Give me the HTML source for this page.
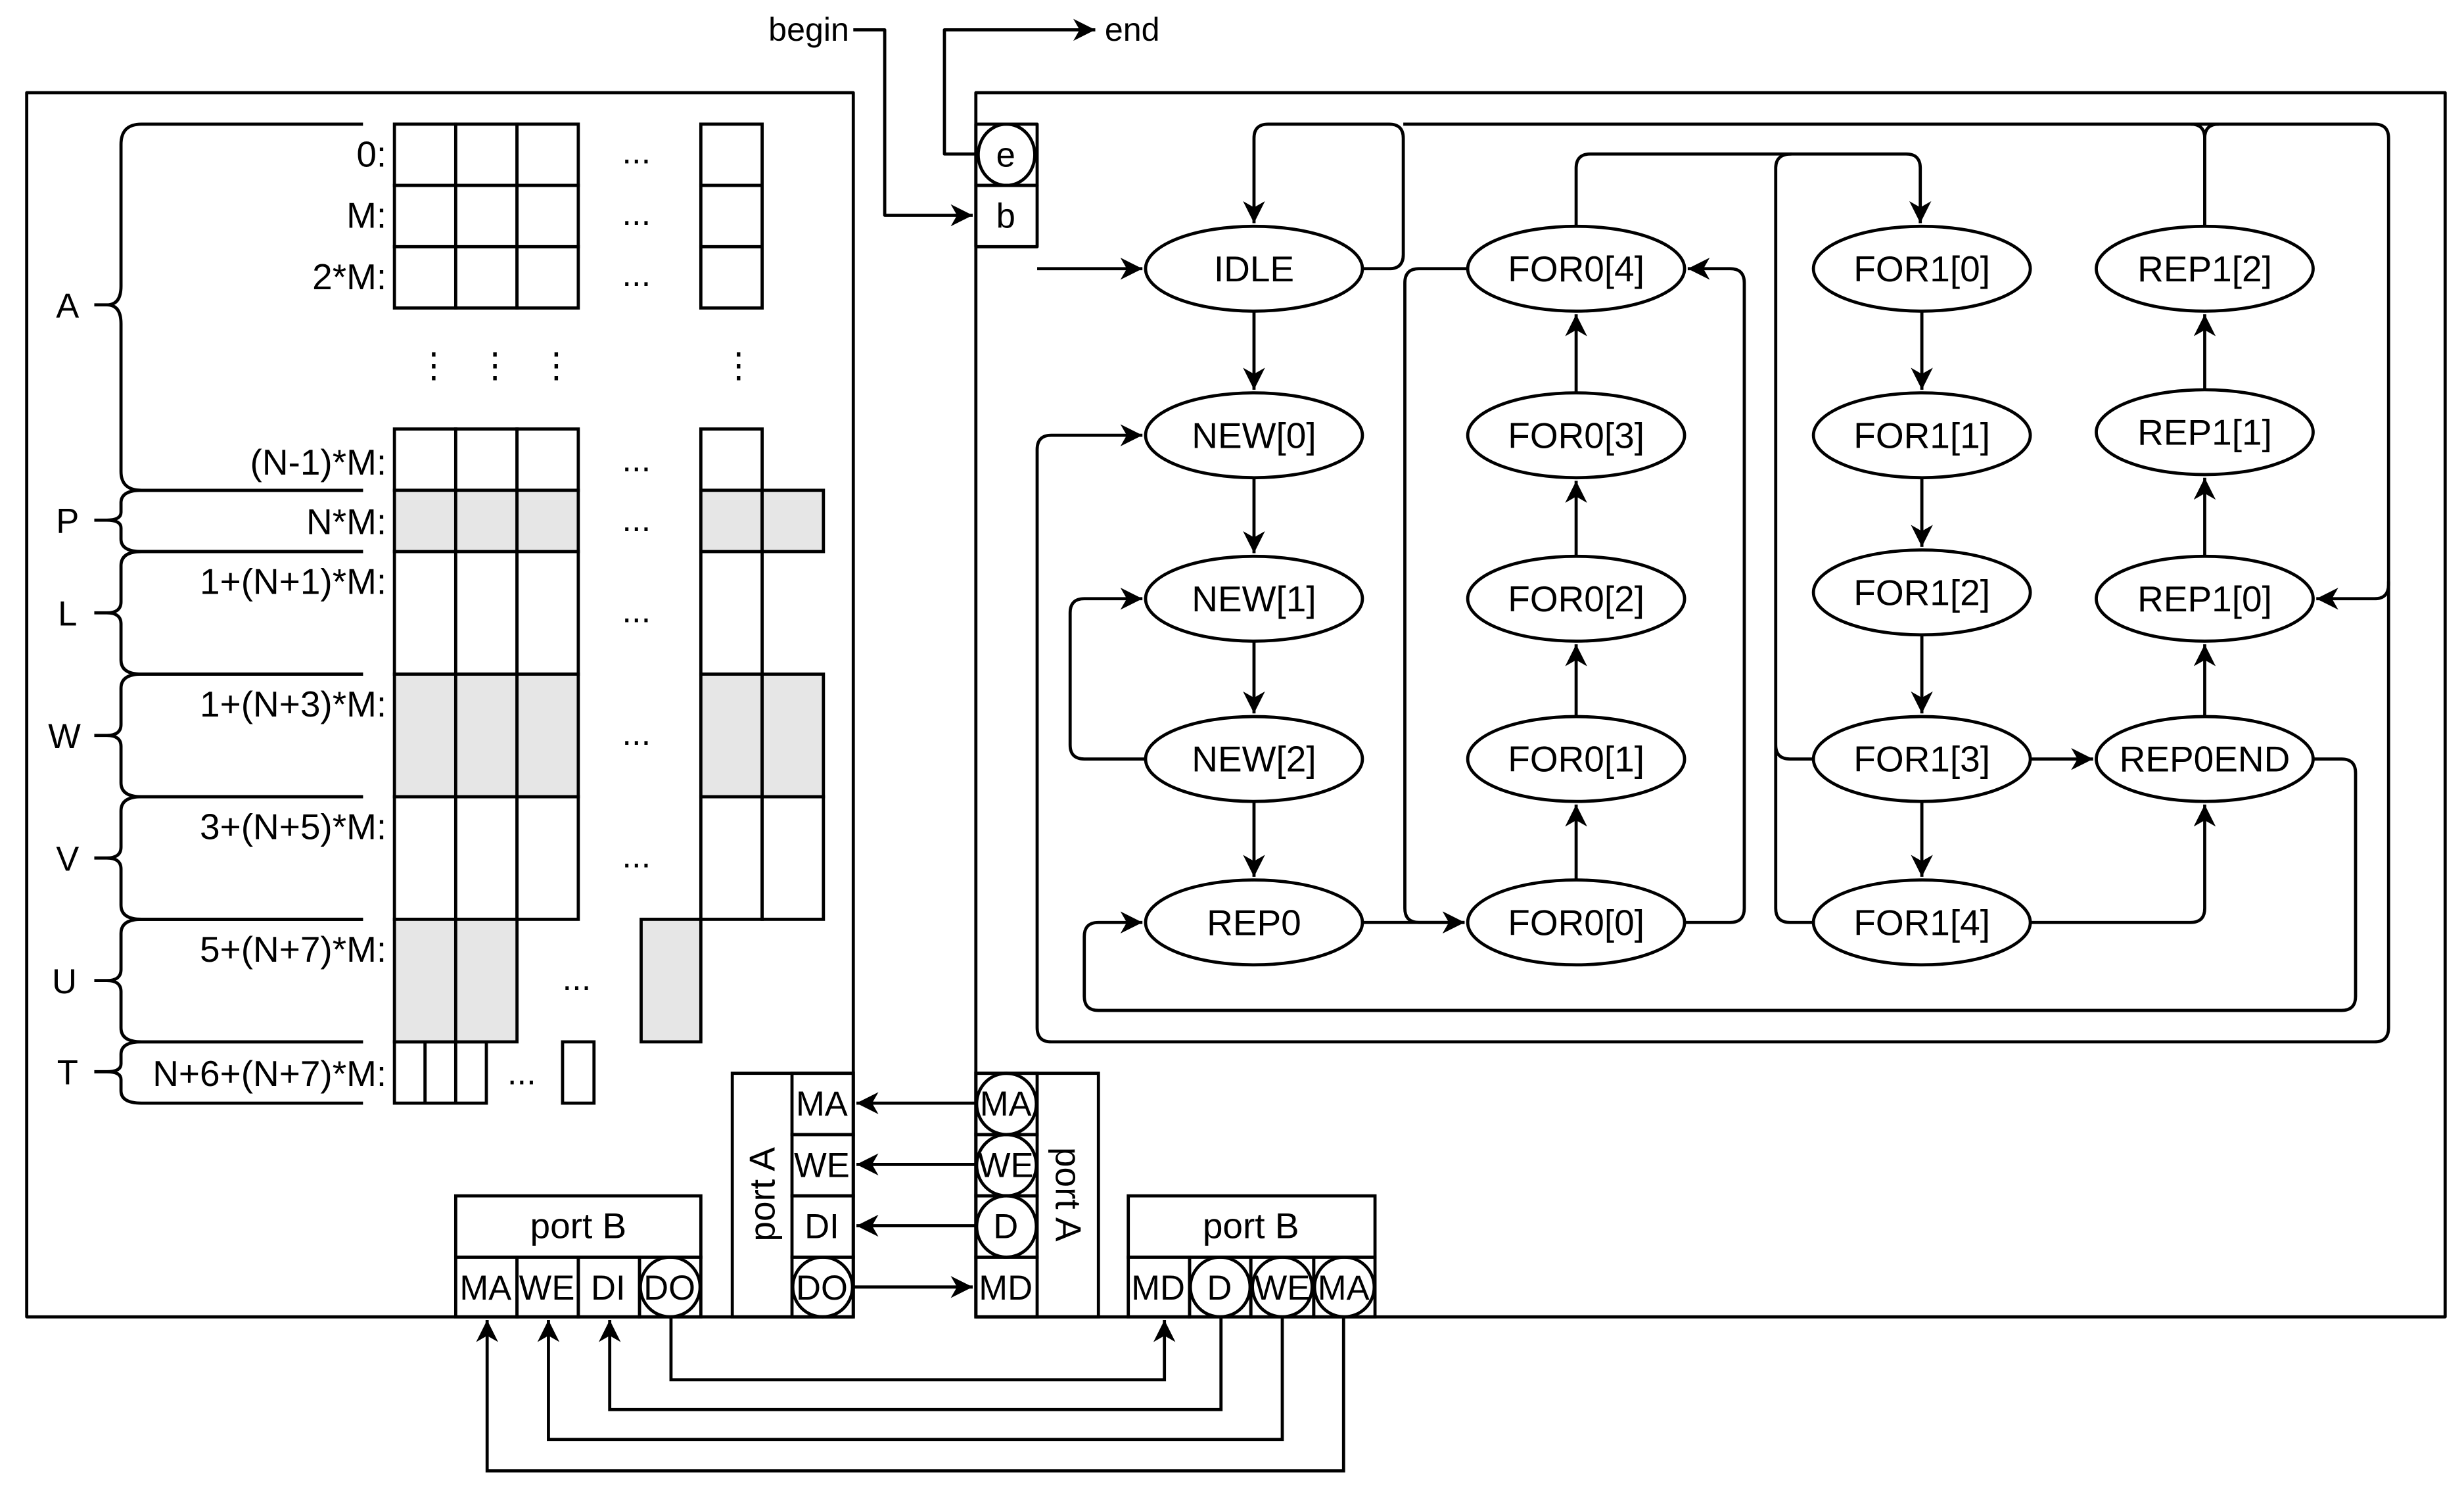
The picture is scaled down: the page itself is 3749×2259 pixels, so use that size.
<!DOCTYPE html>
<html><head><meta charset="utf-8"><style>html,body{margin:0;padding:0;background:#fff}svg{display:block}</style></head>
<body>
<svg xmlns="http://www.w3.org/2000/svg" width="3749" height="2259" viewBox="0 0 1568 945" preserveAspectRatio="none">
<defs>
<marker id="a" markerUnits="userSpaceOnUse" markerWidth="16" markerHeight="14" refX="14" refY="7" orient="auto">
<path d="M0,0 L14,7 L0,14 L4,7 z" fill="#000"/></marker>
</defs>
<rect x="0" y="0" width="1568" height="945" fill="#fff"/>
<g fill="none" stroke="#000" stroke-width="2" stroke-linejoin="round">
<rect x="17" y="59" width="526" height="779"/>
<rect x="621" y="59" width="935" height="779"/>
<rect x="621" y="79" width="39" height="39"/>
<rect x="621" y="118" width="39" height="39"/>
<ellipse cx="640.5" cy="98.5" rx="18" ry="19.5"/>
<path d="M543 19 H563 V137 H619" marker-end="url(#a)"/>
<path d="M621 98 H601 V19 H697" marker-end="url(#a)"/>
</g>
<g stroke="#000" stroke-width="2">
<g fill="#fff">
<rect x="251" y="79" width="39" height="39"/><rect x="290" y="79" width="39" height="39"/><rect x="329" y="79" width="39" height="39"/><rect x="446" y="79" width="39" height="39"/>
<rect x="251" y="118" width="39" height="39"/><rect x="290" y="118" width="39" height="39"/><rect x="329" y="118" width="39" height="39"/><rect x="446" y="118" width="39" height="39"/>
<rect x="251" y="157" width="39" height="39"/><rect x="290" y="157" width="39" height="39"/><rect x="329" y="157" width="39" height="39"/><rect x="446" y="157" width="39" height="39"/>
<rect x="251" y="273" width="39" height="39"/><rect x="290" y="273" width="39" height="39"/><rect x="329" y="273" width="39" height="39"/><rect x="446" y="273" width="39" height="39"/>
<rect x="251" y="351" width="39" height="78"/><rect x="290" y="351" width="39" height="78"/><rect x="329" y="351" width="39" height="78"/><rect x="446" y="351" width="39" height="78"/>
<rect x="251" y="507" width="39" height="78"/><rect x="290" y="507" width="39" height="78"/><rect x="329" y="507" width="39" height="78"/><rect x="446" y="507" width="39" height="78"/><rect x="485" y="507" width="39" height="78"/>
<rect x="251" y="663" width="19.5" height="39"/><rect x="270.5" y="663" width="19.5" height="39"/><rect x="290" y="663" width="19.5" height="39"/><rect x="358" y="663" width="20" height="39"/>
</g>
<g fill="#e6e6e6">
<rect x="251" y="312" width="39" height="39"/><rect x="290" y="312" width="39" height="39"/><rect x="329" y="312" width="39" height="39"/><rect x="446" y="312" width="39" height="39"/><rect x="485" y="312" width="39" height="39"/>
<rect x="251" y="429" width="39" height="78"/><rect x="290" y="429" width="39" height="78"/><rect x="329" y="429" width="39" height="78"/><rect x="446" y="429" width="39" height="78"/><rect x="485" y="429" width="39" height="78"/>
<rect x="251" y="585" width="39" height="78"/><rect x="290" y="585" width="39" height="78"/><rect x="408" y="585" width="38" height="78"/>
</g>
</g>
<g fill="none" stroke="#000" stroke-width="2">
<path d="M231 79 H90 Q77 79 77 92 V182 Q77 194 68 194 H60 M68 194 Q77 194 77 206 V300 Q77 312 90 312 H231"/>
<path d="M231 312 H90 Q77 312 77 320 V326 Q77 331 68 331 H60 M68 331 Q77 331 77 336 V343 Q77 351 90 351 H231"/>
<path d="M231 351 H90 Q77 351 77 360 V383 Q77 390 68 390 H60 M68 390 Q77 390 77 397 V420 Q77 429 90 429 H231"/>
<path d="M231 429 H90 Q77 429 77 438 V461 Q77 468 68 468 H60 M68 468 Q77 468 77 475 V498 Q77 507 90 507 H231"/>
<path d="M231 507 H90 Q77 507 77 516 V539 Q77 546 68 546 H60 M68 546 Q77 546 77 553 V576 Q77 585 90 585 H231"/>
<path d="M231 585 H90 Q77 585 77 594 V617 Q77 624 68 624 H60 M68 624 Q77 624 77 631 V654 Q77 663 90 663 H231"/>
<path d="M231 663 H90 Q77 663 77 671 V677 Q77 682 68 682 H60 M68 682 Q77 682 77 687 V694 Q77 702 90 702 H231"/>
</g>
<g font-family="Liberation Sans, Arial, sans-serif" font-size="22" fill="#000">
<g text-anchor="end" font-size="23">
<text x="246" y="106">0:</text><text x="246" y="145">M:</text><text x="246" y="184">2*M:</text>
<text x="246" y="302">(N-1)*M:</text><text x="246" y="340">N*M:</text><text x="246" y="378">1+(N+1)*M:</text>
<text x="246" y="456">1+(N+3)*M:</text><text x="246" y="534">3+(N+5)*M:</text><text x="246" y="612">5+(N+7)*M:</text>
<text x="246" y="691">N+6+(N+7)*M:</text>
</g>
<g text-anchor="middle">
<text x="43" y="202">A</text><text x="43" y="339">P</text><text x="43" y="398">L</text><text x="41" y="476">W</text>
<text x="43" y="554">V</text><text x="41" y="632">U</text><text x="43" y="690">T</text>
<text x="405" y="104">...</text><text x="405" y="143">...</text><text x="405" y="182">...</text>
<text x="405" y="300">...</text><text x="405" y="338">...</text><text x="405" y="396">...</text>
<text x="405" y="474">...</text><text x="405" y="552">...</text><text x="367" y="630">...</text><text x="332" y="690">...</text>
<text x="276" y="240">⋮</text><text x="315" y="240">⋮</text><text x="354" y="240">⋮</text><text x="470" y="240">⋮</text>
<text x="640" y="106">e</text><text x="640" y="145">b</text>
</g>
<text x="489" y="26" font-size="21">begin</text><text x="703" y="26" font-size="21">end</text>
</g>
<g fill="none" stroke="#000" stroke-width="2">
<rect x="466" y="683" width="77" height="155"/>
<rect x="504" y="683" width="39" height="39"/><rect x="504" y="722" width="39" height="39"/><rect x="504" y="761" width="39" height="39"/><rect x="504" y="800" width="39" height="38"/>
<ellipse cx="523.5" cy="819" rx="19" ry="19"/>
<rect x="290" y="761" width="156" height="39"/>
<rect x="290" y="800" width="39" height="38"/><rect x="329" y="800" width="39" height="38"/><rect x="368" y="800" width="39" height="38"/><rect x="407" y="800" width="39" height="38"/>
<ellipse cx="426.5" cy="819" rx="19" ry="19"/>
<rect x="621" y="683" width="78" height="155"/>
<rect x="621" y="683" width="39" height="39"/><rect x="621" y="722" width="39" height="39"/><rect x="621" y="761" width="39" height="39"/><rect x="621" y="800" width="39" height="38"/>
<ellipse cx="640.5" cy="702.5" rx="19" ry="19.5"/><ellipse cx="640.5" cy="741.5" rx="19" ry="19.5"/><ellipse cx="640.5" cy="780.5" rx="19" ry="19.5"/>
<rect x="718" y="761" width="157" height="39"/>
<rect x="718" y="800" width="39" height="38"/><rect x="757" y="800" width="39" height="38"/><rect x="796" y="800" width="40" height="38"/><rect x="836" y="800" width="39" height="38"/>
<ellipse cx="776.5" cy="819" rx="19" ry="19"/><ellipse cx="816" cy="819" rx="19" ry="19"/><ellipse cx="855.5" cy="819" rx="19" ry="19"/>
<path d="M621 702 H545" marker-end="url(#a)"/>
<path d="M621 741 H545" marker-end="url(#a)"/>
<path d="M621 780 H545" marker-end="url(#a)"/>
<path d="M543 819 H619" marker-end="url(#a)"/>
<path d="M427 838 V878 H741 V840" marker-end="url(#a)"/>
<path d="M777 838 V897 H388 V840" marker-end="url(#a)"/>
<path d="M816 838 V916 H349 V840" marker-end="url(#a)"/>
<path d="M855 838 V936 H310 V840" marker-end="url(#a)"/>
</g>
<g font-family="Liberation Sans, Arial, sans-serif" font-size="22" fill="#000" text-anchor="middle">
<text x="523" y="710">MA</text><text x="523" y="749">WE</text><text x="523" y="788">DI</text><text x="523" y="827">DO</text>
<text x="309" y="827">MA</text><text x="348" y="827">WE</text><text x="387" y="827">DI</text><text x="426" y="827">DO</text>
<text x="368" y="788" font-size="23">port B</text><text x="796" y="788" font-size="23">port B</text>
<text x="640" y="710">MA</text><text x="640" y="749">WE</text><text x="640" y="788">D</text><text x="640" y="827">MD</text>
<text x="737" y="827">MD</text><text x="776" y="827">D</text><text x="816" y="827">WE</text><text x="855" y="827">MA</text>
<text transform="translate(493,760) rotate(-90)" font-size="23">port A</text>
<text transform="translate(672,760) rotate(90)" font-size="23">port A</text>
</g>
<g fill="#fff" stroke="#000" stroke-width="2">
<ellipse cx="798" cy="171" rx="69" ry="27"/><ellipse cx="798" cy="277" rx="69" ry="27"/><ellipse cx="798" cy="381" rx="69" ry="27"/><ellipse cx="798" cy="483" rx="69" ry="27"/><ellipse cx="798" cy="587" rx="69" ry="27"/>
<ellipse cx="1003" cy="171" rx="69" ry="27"/><ellipse cx="1003" cy="277" rx="69" ry="27"/><ellipse cx="1003" cy="381" rx="69" ry="27"/><ellipse cx="1003" cy="483" rx="69" ry="27"/><ellipse cx="1003" cy="587" rx="69" ry="27"/>
<ellipse cx="1223" cy="171" rx="69" ry="27"/><ellipse cx="1223" cy="277" rx="69" ry="27"/><ellipse cx="1223" cy="377" rx="69" ry="27"/><ellipse cx="1223" cy="483" rx="69" ry="27"/><ellipse cx="1223" cy="587" rx="69" ry="27"/>
<ellipse cx="1403" cy="171" rx="69" ry="27"/><ellipse cx="1403" cy="275" rx="69" ry="27"/><ellipse cx="1403" cy="381" rx="69" ry="27"/><ellipse cx="1403" cy="483" rx="69" ry="27"/>
</g>
<g fill="none" stroke="#000" stroke-width="2" stroke-linejoin="round">
<path d="M660 171 H727" marker-end="url(#a)"/>
<path d="M798 198 V248" marker-end="url(#a)"/>
<path d="M798 304 V352" marker-end="url(#a)"/>
<path d="M798 408 V454" marker-end="url(#a)"/>
<path d="M798 510 V558" marker-end="url(#a)"/>
<path d="M729 483 H690 Q681 483 681 474 V390 Q681 381 690 381 H727" marker-end="url(#a)"/>
<path d="M867 171 H884 Q893 171 893 162 V88 Q893 79 884 79 H807 Q798 79 798 88 V142" marker-end="url(#a)"/>
<path d="M893 79 H1511 Q1520 79 1520 88 V372 Q1520 381 1511 381 H1474" marker-end="url(#a)"/>
<path d="M1403 144 V88 Q1403 79 1412 79"/>
<path d="M1403 144 V88 Q1403 79 1394 79"/>
<path d="M1520 370 V654 Q1520 663 1511 663 H669 Q660 663 660 654 V286 Q660 277 669 277 H727" marker-end="url(#a)"/>
<path d="M867 587 H932" marker-end="url(#a)"/>
<path d="M934 171 H903 Q894 171 894 180 V578 Q894 587 903 587 H932" marker-end="url(#a)"/>
<path d="M1072 587 H1101 Q1110 587 1110 578 V180 Q1110 171 1101 171 H1074" marker-end="url(#a)"/>
<path d="M1003 560 V512" marker-end="url(#a)"/>
<path d="M1003 456 V410" marker-end="url(#a)"/>
<path d="M1003 354 V306" marker-end="url(#a)"/>
<path d="M1003 250 V200" marker-end="url(#a)"/>
<path d="M1003 144 V107 Q1003 98 1012 98 H1213 Q1222 98 1222 107 V142" marker-end="url(#a)"/>
<path d="M1140 98 Q1130 98 1130 107 V474 Q1130 483 1139 483 H1154 M1130 474 V578 Q1130 587 1139 587 H1154"/>
<path d="M1223 198 V248" marker-end="url(#a)"/>
<path d="M1223 304 V348" marker-end="url(#a)"/>
<path d="M1223 404 V454" marker-end="url(#a)"/>
<path d="M1223 510 V558" marker-end="url(#a)"/>
<path d="M1292 483 H1332" marker-end="url(#a)"/>
<path d="M1292 587 H1394 Q1403 587 1403 578 V512" marker-end="url(#a)"/>
<path d="M1403 456 V410" marker-end="url(#a)"/>
<path d="M1403 354 V304" marker-end="url(#a)"/>
<path d="M1403 248 V200" marker-end="url(#a)"/>
<path d="M1472 483 H1490 Q1499 483 1499 492 V634 Q1499 643 1490 643 H699 Q690 643 690 634 V596 Q690 587 699 587 H727" marker-end="url(#a)"/>
</g>
<g font-family="Liberation Sans, Arial, sans-serif" font-size="23" fill="#000" text-anchor="middle">
<text x="798" y="179">IDLE</text><text x="798" y="285">NEW[0]</text><text x="798" y="389">NEW[1]</text><text x="798" y="491">NEW[2]</text><text x="798" y="595">REP0</text>
<text x="1003" y="179">FOR0[4]</text><text x="1003" y="285">FOR0[3]</text><text x="1003" y="389">FOR0[2]</text><text x="1003" y="491">FOR0[1]</text><text x="1003" y="595">FOR0[0]</text>
<text x="1223" y="179">FOR1[0]</text><text x="1223" y="285">FOR1[1]</text><text x="1223" y="385">FOR1[2]</text><text x="1223" y="491">FOR1[3]</text><text x="1223" y="595">FOR1[4]</text>
<text x="1403" y="179">REP1[2]</text><text x="1403" y="283">REP1[1]</text><text x="1403" y="389">REP1[0]</text><text x="1403" y="491">REP0END</text>
</g>
</svg>
</body></html>
